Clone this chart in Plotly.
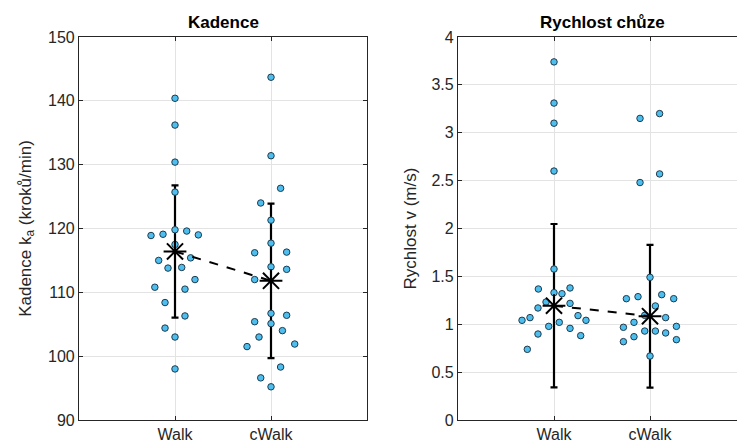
import plotly.graph_objects as go

# ---------------- data ----------------
categories = ["Walk", "cWalk"]

# Kadence (kroků/min)
kad_walk = [140.4, 136.2, 130.4, 125.7, 118.9, 119.1, 119.8, 119.6, 119.0, 117.5, 115.0,
            115.4, 113.8, 113.9, 112.0, 110.8, 110.5, 108.4, 106.3, 104.4, 103.0, 98.0]
kad_walk_jit = [0, 0, 0, 0, -0.25, -0.125, 0, 0.122, 0.243, 0, -0.17,
                0.163, -0.073, 0.07, 0.208, -0.21, 0.104, -0.104, 0.104, -0.104, 0, 0]
kad_cwalk = [143.7, 131.4, 126.3, 124.0, 121.3, 117.7, 116.2, 116.3, 114.0, 113.6, 112.0,
             106.7, 106.4, 105.4, 105.1, 103.0, 104.0, 101.5, 101.9, 98.3, 96.6, 95.2]
kad_cwalk_jit = [0, 0, 0.1, -0.107, 0, 0, -0.17, 0.163, 0, 0.163, -0.17,
                 0, 0.163, -0.17, 0, -0.125, 0.119, -0.25, 0.247, 0.1, -0.107, 0]
kad_center = [116.4, 111.8]
kad_spread = [10.35, 12.1]

# Rychlost (m/s)
v_walk = [3.74, 3.31, 3.10, 2.60, 1.577, 1.368, 1.33, 1.379, 1.319, 1.232, 1.218,
          1.170, 1.069, 1.041, 1.090, 1.041, 0.978, 1.020, 0.957, 0.898, 0.881, 0.738]
v_walk_jit = [0, 0, 0, 0, 0, -0.163, 0, 0.167, 0.083, -0.083, 0.167,
              -0.167, -0.25, -0.333, 0.25, 0.333, -0.055, 0.055, 0.167, -0.167, 0.278, -0.278]
v_cwalk = [3.15, 3.20, 2.48, 2.57, 1.490, 1.267, 1.288, 1.309, 1.267, 1.191, 1.093,
           1.069, 1.020, 0.968, 0.978, 0.929, 0.929, 0.909, 0.870, 0.818, 0.839, 0.668]
v_cwalk_jit = [-0.104, 0.1, -0.104, 0.1, 0, -0.246, -0.125, 0.122, 0.247, 0.056, -0.055,
               0.163, -0.167, -0.277, 0.275, -0.055, 0.056, 0.163, -0.167, -0.277, 0.275, 0]
v_center = [1.194, 1.084]
v_spread = [0.853, 0.746]

# ---------------- style ----------------
FONT = "Liberation Sans, Arial, sans-serif"
PT_FILL = "#4DBEEE"
PT_EDGE = "#1f3b4d"
AX = "#262626"
GRID = "#e3e3e3"

# the original figure is a bit wider than the visible window; its right edge is cropped
W, H = 746, 443
ML, MT, MB = 79, 37, 23
PW = W - ML
cat_pos = [1, 2]

fig = go.Figure()


def add_panel(xa, ya, walk, walk_j, cwalk, cwalk_j, center, spread):
    fig.add_trace(go.Scatter(
        x=cat_pos, y=center, mode="markers", xaxis=xa, yaxis=ya,
        marker=dict(size=1, color="rgba(0,0,0,0)"),
        error_y=dict(type="data", array=spread, visible=True, color="black",
                     thickness=2.2, width=3.5),
        showlegend=False, hoverinfo="skip"))
    for pos, vals, jit in ((cat_pos[0], walk, walk_j), (cat_pos[1], cwalk, cwalk_j)):
        fig.add_trace(go.Scatter(
            x=[pos + j for j in jit], y=vals, mode="markers", xaxis=xa, yaxis=ya,
            marker=dict(size=6.5, color=PT_FILL, line=dict(color=PT_EDGE, width=1)),
            showlegend=False))
    fig.add_trace(go.Scatter(
        x=cat_pos, y=center, mode="lines", xaxis=xa, yaxis=ya,
        line=dict(color="black", width=2, dash="dash"), showlegend=False))
    fig.add_trace(go.Scatter(
        x=cat_pos, y=center, mode="markers", xaxis=xa, yaxis=ya,
        marker=dict(symbol="asterisk-open", size=19, color="black",
                    line=dict(color="black", width=2)),
        showlegend=False))


add_panel("x", "y", kad_walk, kad_walk_jit, kad_cwalk, kad_cwalk_jit, kad_center, kad_spread)
add_panel("x2", "y2", v_walk, v_walk_jit, v_cwalk, v_cwalk_jit, v_center, v_spread)

xcommon = dict(tickmode="array", tickvals=cat_pos, ticktext=categories, automargin=False,
               showgrid=True, gridcolor=GRID, gridwidth=1, zeroline=False,
               showline=True, linecolor=AX, linewidth=1.2, ticks="inside",
               ticklen=4, tickcolor=AX, tickfont=dict(family=FONT, size=16, color=AX))
ycommon = dict(showgrid=True, gridcolor=GRID, gridwidth=1, zeroline=False, automargin=False,
               showline=True, linecolor=AX, linewidth=1.2, ticks="inside",
               ticklen=4, tickcolor=AX, tickfont=dict(family=FONT, size=16, color=AX))

fig.update_layout(
    width=W, height=H,
    margin=dict(l=ML, r=0, t=MT, b=MB, pad=0, autoexpand=False),
    paper_bgcolor="white", plot_bgcolor="white",
    font=dict(family=FONT, color=AX),
    xaxis=dict(domain=[0, 288 / PW], range=[0, 3], mirror="ticks", anchor="y", **xcommon),
    yaxis=dict(domain=[0, 1], range=[90, 150], dtick=10, mirror="ticks", anchor="x",
               title=dict(text="Kadence k<sub>a</sub> (kroků/min)",
                          font=dict(family=FONT, size=17, color=AX), standoff=12),
               **ycommon),
    xaxis2=dict(domain=[379 / PW, 1.0], range=[0, 3], mirror="ticks", anchor="y2", **xcommon),
    yaxis2=dict(domain=[0, 1], range=[0, 4], dtick=0.5, mirror=False, anchor="x2",
                title=dict(text="Rychlost v (m/s)",
                           font=dict(family=FONT, size=17, color=AX), standoff=10),
                **ycommon),
    annotations=[
        dict(text="<b>Kadence</b>", x=144 / PW, y=1, yshift=15, xref="paper", yref="paper",
             showarrow=False, xanchor="center", yanchor="middle",
             font=dict(family=FONT, size=17, color="black")),
        dict(text="<b>Rychlost chůze</b>", x=(379 + 144) / PW, y=1, yshift=15,
             xref="paper", yref="paper",
             showarrow=False, xanchor="center", yanchor="middle",
             font=dict(family=FONT, size=17, color="black")),
    ],
)

fig.write_html("out.html", config={"displayModeBar": False},
               post_script="document.body.style.margin='0';document.body.style.overflow='hidden';")
